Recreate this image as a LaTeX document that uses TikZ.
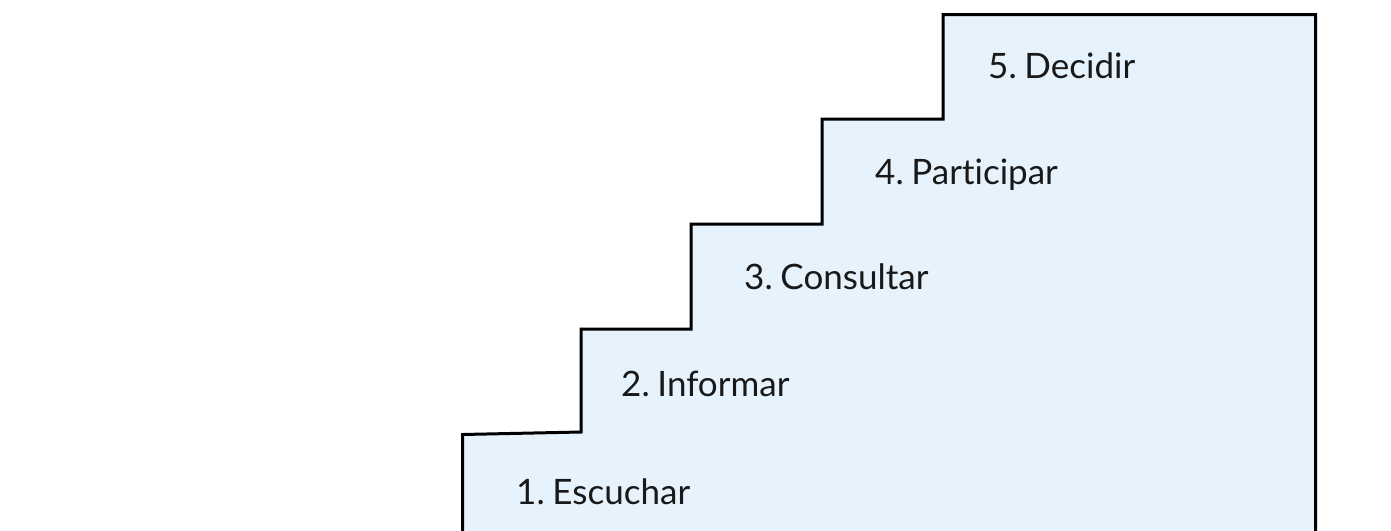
\documentclass[tikz,border=0pt]{standalone}
\usepackage{fontspec}
\setmainfont[Ligatures={NoCommon}]{Lato}
\definecolor{stepfill}{HTML}{E6F3FD}
\begin{document}
\begin{tikzpicture}[x=1pt,y=-1pt,
  lbl/.style={anchor=base west,inner sep=0pt,font=\fontsize{35}{40}\selectfont,text=black!90}]
\useasboundingbox (0,0) rectangle (1391,530);
\fill[stepfill] (462.5,535) -- (462.5,434.5) -- (581,432) -- (581,329) -- (691,329) -- (691,224) -- (822,224) -- (822,119) -- (943,119) -- (943,14.7) -- (1315.5,14.7) -- (1315.5,535) -- cycle;
\draw[line width=3pt,line join=miter] (462.5,535) -- (462.5,434.5) -- (581,432) -- (581,329) -- (691,329) -- (691,224) -- (822,224) -- (822,119) -- (943,119) -- (943,14.7) -- (1315.5,14.7) -- (1315.5,535);
\node[lbl] (s1) at (516,504) {1.\hspace{0.22em}Escuchar};
\node[lbl] (s2) at (621,396) {2.\hspace{0.22em}Informar};
\node[lbl] (s3) at (744,289) {3.\hspace{0.22em}Consultar};
\node[lbl] (s4) at (875,184) {4.\hspace{0.22em}Participar};
\node[lbl] (s5) at (988,78) {5.\hspace{0.22em}Decidir};
\end{tikzpicture}
\end{document}
